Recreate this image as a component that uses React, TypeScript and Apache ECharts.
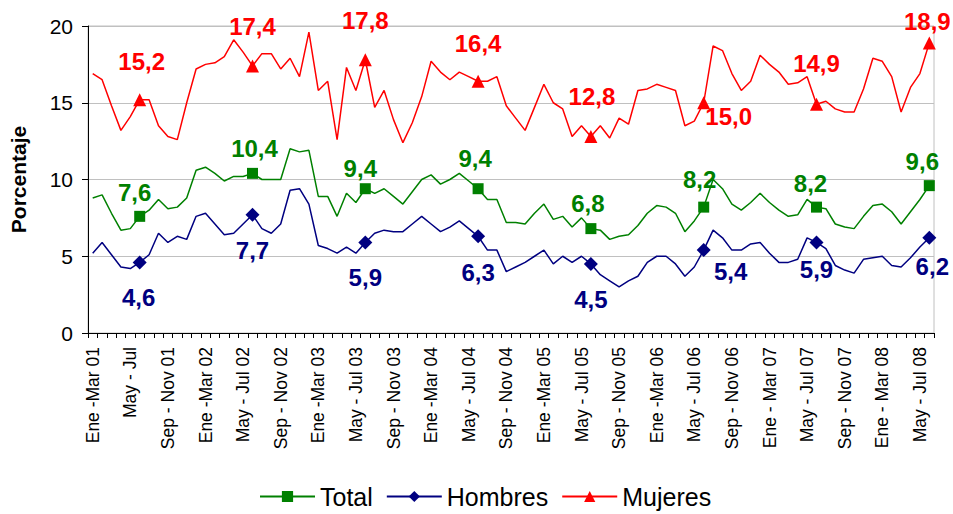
import React, { useEffect, useRef } from 'react';
import * as echarts from 'echarts';

const tickLabels = [
  'Ene -Mar 01', 'May - Jul', 'Sep - Nov 01', 'Ene -Mar 02', 'May - Jul 02', 'Sep - Nov 02',
  'Ene -Mar 03', 'May - Jul 03', 'Sep - Nov 03', 'Ene -Mar 04', 'May - Jul 04', 'Sep - Nov 04',
  'Ene -Mar 05', 'May - Jul 05', 'Sep - Nov 05', 'Ene -Mar 06', 'May - Jul 06', 'Sep - Nov 06',
  'Ene - Mar 07', 'May - Jul 07', 'Sep - Nov 07', 'Ene - Mar 08', 'May - Jul 08',
];

const monthNames = ['Ene', 'Feb', 'Mar', 'Abr', 'May', 'Jun', 'Jul', 'Ago', 'Sep', 'Oct', 'Nov', 'Dic'];

const total = [
  8.8, 9.0, 7.8, 6.7, 6.8, 7.6, 8.0, 8.7, 8.1, 8.2, 8.8, 10.6, 10.8, 10.4, 9.9, 10.2, 10.2, 10.4, 10.0, 10.0,
  10.0, 12.0, 11.8, 11.9, 8.9, 8.9, 7.6, 9.1, 8.5, 9.4, 9.1, 9.4, 8.9, 8.4, 9.2, 10.0, 10.3, 9.7, 10.0, 10.4,
  9.9, 9.4, 8.7, 8.7, 7.2, 7.2, 7.1, 7.8, 8.4, 7.4, 7.6, 6.9, 7.5, 6.8, 6.7, 6.1, 6.3, 6.4, 7.0, 7.8,
  8.3, 8.2, 7.8, 6.6, 7.3, 8.2, 10.0, 9.4, 8.4, 8.0, 8.5, 9.1, 8.5, 8.0, 7.6, 7.7, 8.7, 8.2, 8.1, 7.1,
  6.9, 6.8, 7.6, 8.3, 8.4, 7.9, 7.1, 7.9, 8.7, 9.6,
];

const hombres = [
  5.2, 5.9, 5.1, 4.3, 4.2, 4.6, 5.1, 6.5, 5.9, 6.3, 6.1, 7.6, 7.8, 7.1, 6.4, 6.5, 7.1, 7.7, 6.8, 6.5,
  7.1, 9.3, 9.4, 8.4, 5.7, 5.5, 5.2, 5.6, 5.2, 5.9, 6.5, 6.7, 6.6, 6.6, 7.1, 7.6, 7.1, 6.6, 6.9, 7.3,
  6.8, 6.3, 5.4, 5.4, 4.0, 4.3, 4.6, 5.0, 5.4, 4.5, 5.0, 4.6, 5.0, 4.5, 3.8, 3.4, 3.0, 3.4, 3.7, 4.6,
  5.0, 5.0, 4.5, 3.7, 4.3, 5.4, 6.7, 6.2, 5.4, 5.4, 5.8, 5.9, 5.2, 4.6, 4.6, 4.8, 6.2, 5.9, 5.5, 4.4,
  4.1, 3.9, 4.8, 4.9, 5.0, 4.4, 4.3, 4.9, 5.6, 6.2,
];

const mujeres = [
  16.9, 16.5, 14.8, 13.2, 14.1, 15.2, 15.2, 13.5, 12.8, 12.6, 15.0, 17.2, 17.5, 17.6, 18.0, 19.1, 18.3, 17.4, 18.2, 18.2,
  17.2, 17.9, 16.7, 19.6, 15.8, 16.4, 12.6, 17.3, 15.8, 17.8, 14.7, 15.8, 13.9, 12.4, 13.7, 15.4, 17.7, 17.0, 16.5, 17.0,
  16.7, 16.4, 16.4, 16.7, 14.8, 14.0, 13.2, 14.7, 16.2, 15.0, 14.6, 12.8, 13.5, 12.8, 13.5, 12.7, 14.0, 13.6, 15.8, 15.9,
  16.2, 16.0, 15.8, 13.5, 13.8, 15.0, 18.7, 18.4, 16.9, 15.8, 16.4, 18.1, 17.5, 17.0, 16.2, 16.3, 16.7, 14.9, 15.1, 14.6,
  14.4, 14.4, 15.9, 17.9, 17.7, 16.7, 14.4, 16.0, 16.9, 18.9,
];

const markerIdx = [5, 17, 29, 41, 53, 65, 77, 89];

const FONT = '"Liberation Sans", Arial, Helvetica, sans-serif';

const categories = total.map((_, i) =>
  i % 4 === 0
    ? tickLabels[i / 4]
    : `${monthNames[i % 12]} - ${monthNames[(i + 2) % 12]} ${String(1 + Math.floor(i / 12)).padStart(2, '0')}`
);

const fmt = (p: any) => Number(p.value).toFixed(1).replace('.', ',');

function buildData(values: number[], color: string, size: number, offsets: number[][]) {
  return values.map((v, i) => {
    const k = markerIdx.indexOf(i);
    if (k < 0) return v;
    return {
      value: v,
      symbolSize: size,
      label: {
        show: true,
        position: 'inside',
        align: 'center',
        verticalAlign: 'middle',
        offset: offsets[k],
        color,
        fontSize: 24,
        fontWeight: 'bold',
        fontFamily: FONT,
        formatter: fmt,
      },
    };
  });
}

const totalOffsets = [[-5, -24], [2, -25], [-5, -20], [-3, -30], [-3, -25], [-4, -28], [-6, -24], [-7, -24]];
const hombresOffsets = [[-1, 35], [0, 36], [0, 35], [0, 36], [0, 36], [27, 21], [0, 27], [3, 29]];
const mujeresOffsets = [[2, -38], [0, -39], [0, -39], [0, -38], [1, -40], [25, 14], [0, -41], [-2, -21]];

export default function App() {
  const ref = useRef<HTMLDivElement>(null);
  useEffect(() => {
    document.body.style.margin = '0';
    if (!ref.current) return;
    const chart = echarts.init(ref.current, undefined, { renderer: 'svg' });
    const mk = (name: string, values: number[], color: string, symbol: string, size: number, offs: number[][]) => ({
      name,
      type: 'line',
      data: buildData(values, color, size, offs),
      symbol,
      symbolSize: 0,
      showAllSymbol: true,
      lineStyle: { color, width: 1.5 },
      itemStyle: { color },
      label: { show: false },
      emphasis: { disabled: true },
    });
    chart.setOption({
      animation: false,
      textStyle: { fontFamily: FONT },
      grid: {
        left: 86,
        right: 19,
        top: 26,
        bottom: 181,
        show: true,
        borderColor: '#c0c0c0',
        borderWidth: 1,
        containLabel: false,
      },
      legend: {
        left: 259,
        top: 484,
        itemWidth: 55,
        itemHeight: 14,
        itemGap: 13,
        padding: 0,
        textStyle: { fontSize: 25, color: '#000', fontFamily: FONT },
        data: ['Total', 'Hombres', 'Mujeres'],
      },
      xAxis: {
        type: 'category',
        data: categories,
        boundaryGap: true,
        axisLine: { show: true, lineStyle: { color: '#000', width: 1 } },
        axisTick: { show: true, interval: 0, length: 5, lineStyle: { color: '#000' } },
        axisLabel: {
          interval: 3,
          rotate: 90,
          fontSize: 17.5,
          color: '#000',
          margin: 14,
          fontFamily: FONT,
        },
        splitLine: { show: false },
      },
      yAxis: {
        type: 'value',
        min: 0,
        max: 20,
        interval: 5,
        name: 'Porcentaje',
        nameLocation: 'middle',
        nameGap: 59,
        nameTextStyle: { fontSize: 21, fontWeight: 'bold', color: '#000', fontFamily: FONT },
        axisLine: { show: true, lineStyle: { color: '#000', width: 1 } },
        axisTick: { show: true, length: 6, lineStyle: { color: '#000' } },
        axisLabel: { fontSize: 21, color: '#000', margin: 15, fontFamily: FONT },
        splitLine: { show: true, lineStyle: { color: '#c0c0c0', width: 1 } },
      },
      series: [
        mk('Total', total, '#008000', 'rect', 11, totalOffsets),
        mk('Hombres', hombres, '#000080', 'diamond', 14, hombresOffsets),
        mk('Mujeres', mujeres, '#ff0000', 'triangle', 13, mujeresOffsets),
      ],
    });
    return () => chart.dispose();
  }, []);
  return <div ref={ref} style={{ width: 953, height: 514 }} />;
}
